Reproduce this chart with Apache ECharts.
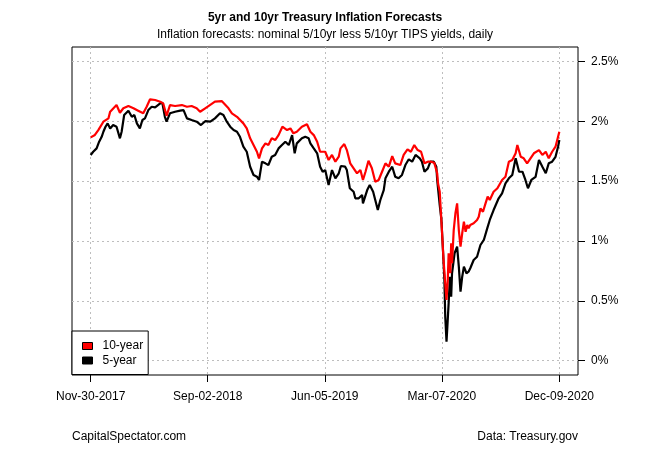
<!DOCTYPE html>
<html><head><meta charset="utf-8">
<script src="https://cdn.jsdelivr.net/npm/echarts@6/dist/echarts.min.js"></script>
<style>html,body{margin:0;padding:0;background:#fff}#c{width:650px;height:450px}</style>
</head><body><div id="c"></div>
<script>
// x = days since Nov-30-2017
const xTickDays = [0, 276, 552, 828, 1105];
const xTickLabels = ['Nov-30-2017', 'Sep-02-2018', 'Jun-05-2019', 'Mar-07-2020', 'Dec-09-2020'];
const yTickValues = [0, 0.5, 1, 1.5, 2, 2.5];

const tenYearDays = [0,10,18,30,42,46,50,61,69,77,89,101,112,124,132,140,152,164,171,179,187,199,215,227,238,250,258,270,293,309,325,333,345,360,368,376,384,392,397,404,412,419,427,435,443,452,463,471,478,486,498,510,518,526,534,541,553,561,569,577,585,589,598,604,612,620,628,636,642,648,655,663,671,679,687,695,703,711,718,730,738,747,755,763,771,779,787,795,801,810,817,819,823,825,829,832,836,839,842,844,848,850,852,856,860,864,868,872,876,880,884,888,891,895,903,911,915,919,925,931,936,941,950,959,970,978,986,994,1002,1006,1014,1021,1029,1037,1045,1057,1065,1073,1080,1088,1096,1102,1105];
const tenYearValues = [1.865,1.885,1.926,1.996,2.024,2.08,2.066,2.135,2.071,2.108,2.127,2.108,2.088,2.066,2.121,2.183,2.177,2.163,2.149,2.045,2.135,2.127,2.135,2.121,2.127,2.108,2.079,2.108,2.163,2.168,2.108,2.066,2.037,1.982,1.940,1.857,1.801,1.745,1.69,1.773,1.815,1.801,1.857,1.843,1.884,1.954,1.926,1.940,1.899,1.912,1.954,1.974,1.912,1.884,1.829,1.745,1.745,1.676,1.718,1.662,1.704,1.773,1.809,1.759,1.648,1.607,1.565,1.592,1.509,1.578,1.670,1.607,1.495,1.509,1.578,1.648,1.620,1.709,1.648,1.634,1.718,1.765,1.745,1.801,1.759,1.745,1.648,1.662,1.662,1.653,1.565,1.48,1.411,1.286,1.035,0.841,0.646,0.507,0.674,0.897,0.730,0.980,0.813,1.091,1.231,1.314,1.091,0.952,1.064,1.161,1.077,1.133,1.105,1.133,1.147,1.175,1.202,1.272,1.244,1.314,1.370,1.342,1.411,1.440,1.509,1.536,1.662,1.676,1.732,1.801,1.703,1.690,1.648,1.690,1.732,1.759,1.718,1.745,1.690,1.745,1.787,1.870,1.912];

const fiveYearDays = [0,6,14,20,26,30,35,40,46,53,61,69,73,79,89,97,103,109,116,122,128,136,144,152,164,169,175,179,187,199,211,219,227,238,250,260,270,282,293,305,313,321,329,337,345,352,360,368,376,384,392,397,404,412,419,427,435,443,451,459,467,475,481,486,498,506,514,518,526,534,541,547,553,561,569,577,585,590,600,604,611,620,624,632,640,642,652,658,666,671,677,683,691,695,703,711,718,726,734,742,750,758,766,776,781,787,795,801,809,815,817,821,823,827,831,834,836,839,841,844,847,850,852,858,864,868,872,876,880,886,891,895,903,911,919,927,935,941,950,962,970,978,986,994,1002,1010,1018,1025,1031,1039,1049,1057,1065,1073,1080,1088,1096,1102,1105];
const fiveYearValues = [1.718,1.745,1.773,1.829,1.870,1.912,1.954,1.982,1.940,1.968,1.954,1.857,1.912,2.052,2.088,2.037,2.052,1.982,1.940,2.010,2.024,2.093,2.121,2.116,2.149,2.154,2.037,1.996,2.066,2.079,2.088,2.093,2.024,2.010,1.996,1.968,2.0,1.996,2.024,2.066,2.052,1.996,1.954,1.926,1.912,1.870,1.787,1.745,1.62,1.551,1.537,1.509,1.662,1.648,1.634,1.703,1.718,1.773,1.801,1.829,1.801,1.884,1.732,1.815,1.857,1.870,1.857,1.815,1.773,1.732,1.62,1.578,1.592,1.467,1.592,1.523,1.565,1.626,1.62,1.592,1.440,1.411,1.356,1.356,1.384,1.314,1.425,1.467,1.411,1.342,1.258,1.342,1.425,1.523,1.578,1.620,1.537,1.523,1.551,1.634,1.682,1.662,1.718,1.690,1.662,1.578,1.606,1.662,1.662,1.620,1.509,1.37,1.30,1.175,0.897,0.674,0.367,0.159,0.284,0.479,0.701,0.534,0.730,0.897,0.952,0.785,0.576,0.701,0.785,0.730,0.743,0.772,0.841,0.868,0.966,1.008,1.105,1.175,1.258,1.356,1.398,1.481,1.523,1.551,1.690,1.578,1.578,1.509,1.440,1.509,1.536,1.676,1.620,1.565,1.648,1.662,1.703,1.787,1.843];

const FONT = "'Liberation Sans', Arial, sans-serif";
const pair = (xs, ys) => xs.map((x, i) => [x, ys[i]]);

const chart = echarts.init(document.getElementById('c'), null, {renderer: 'canvas'});
chart.setOption({
  animation: false,
  backgroundColor: '#fff',
  textStyle: {fontFamily: FONT},
  title: [
    {text: '5yr and 10yr Treasury Inflation Forecasts', left: 'center', top: 12, padding: 0,
     textStyle: {fontSize: 12, fontWeight: 'bold', color: '#000', fontFamily: FONT}},
    {text: 'Inflation forecasts: nominal 5/10yr less 5/10yr TIPS yields, daily', left: 'center', top: 29, padding: 0,
     textStyle: {fontSize: 12, fontWeight: 'normal', color: '#000', fontFamily: FONT}},
    {text: 'CapitalSpectator.com', left: 72, top: 431, padding: 0,
     textStyle: {fontSize: 12, fontWeight: 'normal', color: '#000', fontFamily: FONT}},
    {text: 'Data: Treasury.gov', right: 72, top: 431, padding: 0,
     textStyle: {fontSize: 12, fontWeight: 'normal', color: '#000', fontFamily: FONT}}
  ],
  grid: {left: 72, right: 72, top: 47, bottom: 75, show: true, borderColor: '#000', borderWidth: 1, backgroundColor: 'transparent'},
  legend: {
    data: ['10-year', '5-year'], orient: 'vertical', left: 72, top: 331,
    padding: [9, 5, 8, 10], itemGap: 2.5, itemWidth: 10, itemHeight: 7, icon: 'rect',
    backgroundColor: '#fff', borderColor: '#000', borderWidth: 1, borderRadius: 0,
    itemStyle: {borderColor: '#000', borderWidth: 1},
    textStyle: {fontSize: 12, color: '#000', fontFamily: FONT, padding: [0, 0, 0, 5]}
  },
  xAxis: {
    type: 'value', min: -44, max: 1149, position: 'bottom',
    axisLine: {show: false, onZero: false},
    axisTick: {show: true, customValues: xTickDays, length: 7, lineStyle: {color: '#000'}},
    axisLabel: {customValues: xTickDays, margin: 16, fontSize: 12, color: '#000', fontFamily: FONT,
      formatter: v => xTickLabels[xTickDays.indexOf(v)]},
    splitLine: {show: true, lineStyle: {color: '#bebebe', width: 1, type: [2, 3]}}
  },
  yAxis: {
    type: 'value', position: 'right', min: -0.12, max: 2.62,
    axisLine: {show: false, onZero: false},
    axisTick: {show: true, customValues: yTickValues, length: 7, lineStyle: {color: '#000'}},
    axisLabel: {customValues: yTickValues, margin: 13, fontSize: 12, color: '#000', fontFamily: FONT,
      formatter: v => v + '%'},
    splitLine: {show: true, lineStyle: {color: '#bebebe', width: 1, type: [2, 3]}}
  },
  series: [
    {name: '5-year', type: 'line', data: pair(fiveYearDays, fiveYearValues), symbol: 'none', showSymbol: false,
     color: '#000', lineStyle: {width: 2.2, color: '#000'}, itemStyle: {color: '#000'}, z: 2},
    {name: '10-year', type: 'line', data: pair(tenYearDays, tenYearValues), symbol: 'none', showSymbol: false,
     color: '#ff0000', lineStyle: {width: 2.2, color: '#ff0000'}, itemStyle: {color: '#ff0000'}, z: 3}
  ]
});
</script>
</body></html>
